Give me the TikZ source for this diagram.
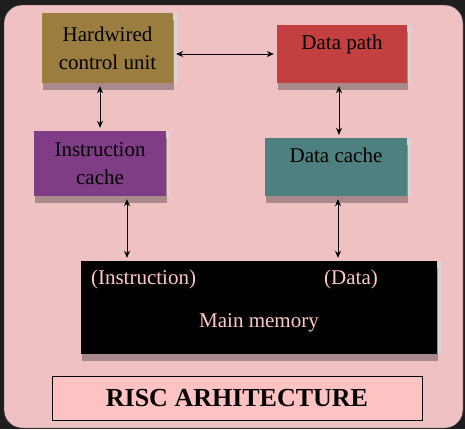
\documentclass[tikz,border=0pt]{standalone}
\usepackage{fontspec}
\setmainfont{Liberation Serif}
\usetikzlibrary{arrows.meta,shadows}
\definecolor{frame-dark}{HTML}{1E1E1E}
\definecolor{slide-pink}{HTML}{EFC1C3}
\definecolor{title-pink}{HTML}{FFC2C2}
\definecolor{cu-olive}{HTML}{9B7D40}
\definecolor{dp-red}{HTML}{C44040}
\definecolor{ic-purple}{HTML}{7E3D85}
\definecolor{dc-teal}{HTML}{4F8080}
\definecolor{mem-text}{HTML}{FFC8C8}
\definecolor{shadow-dark}{HTML}{A88A8C}
\definecolor{shadow-light}{HTML}{DDD2D2}

\begin{document}
\begin{tikzpicture}[x=1pt, y=-1pt,
      every node/.style={font=\fontsize{21}{28}\selectfont},
      unit/.style={inner sep=0pt, align=center,
        general shadow={fill=shadow-light, shadow xshift=4pt, shadow yshift=0pt},
        general shadow={fill=shadow-dark, shadow xshift=1pt, shadow yshift=-7pt}},
      link/.style={{Stealth[length=7pt,width=6pt]}-{Stealth[length=7pt,width=6pt]},
        line width=0.8pt, shorten <=3pt, shorten >=3pt}]
    % slide background
    \fill[frame-dark] (0,0) rectangle (465,429);
    \draw[black!80, fill=slide-pink, rounded corners=18pt] (4,5) rectangle (463,428);

    \node[unit, fill=cu-olive, minimum width=131pt, minimum height=70pt]
          (CU) at (107.5,48) {Hardwired\\control unit};
    \node[unit, fill=dp-red, minimum width=130pt, minimum height=58pt,
          text height=14pt, text depth=24pt]
          (DP) at (342,54) {Data path};
    \node[unit, fill=ic-purple, minimum width=132pt, minimum height=65pt]
          (IC) at (100,163.5) {Instruction\\cache};
    \node[unit, fill=dc-teal, minimum width=142pt, minimum height=58pt,
          text height=14pt, text depth=24pt]
          (DC) at (336,167) {Data cache};
    \node[unit, fill=black, text=mem-text, minimum width=356pt, minimum height=93pt,
          text height=44pt, text depth=5pt]
          (MEM) at (259,307.5) {Main memory};
    \node[text=mem-text] (INS) at (143.5,279) {(Instruction)};
    \node[text=mem-text] (DAT) at (351,279) {(Data)};

    \node[draw=black, line width=0.8pt, fill=title-pink, minimum width=370pt,
          minimum height=44pt, font=\fontsize{26}{30}\selectfont\bfseries]
          (TITLE) at (237,398) {RISC ARHITECTURE};

    \draw[link] (CU.east |- DP.west) -- (DP.west);
    \draw[link] (IC.north |- CU.south) -- (IC.north);
    \draw[link] ([xshift=-3pt]DP.south) -- ([xshift=-3pt]DP.south |- DC.north);
    \draw[link] ([xshift=27pt]IC.south) -- ([xshift=27pt]IC.south |- MEM.north);
    \draw[link] ([xshift=2pt]DC.south) -- ([xshift=2pt]DC.south |- MEM.north);
  \end{tikzpicture}
\end{document}
